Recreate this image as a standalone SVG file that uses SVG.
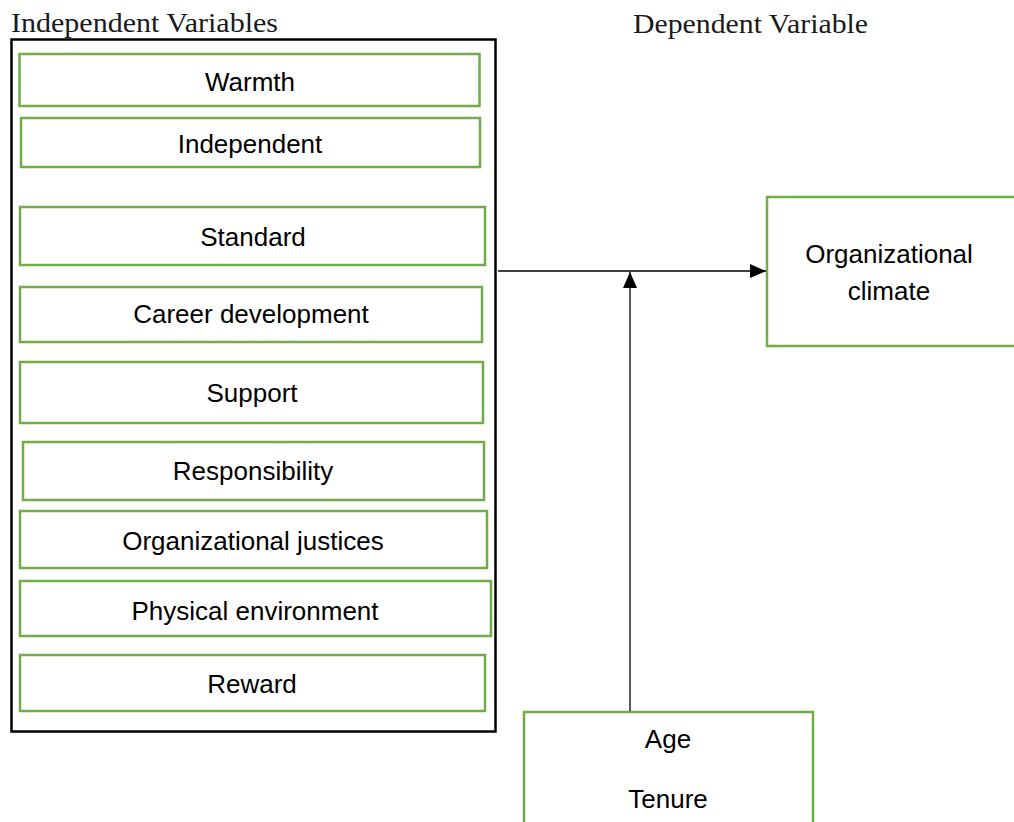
<svg xmlns="http://www.w3.org/2000/svg" width="1014" height="822" viewBox="0 0 1014 822">
<style>
.hdr{font-family:"Liberation Serif","Times New Roman",serif;font-size:28px;fill:#1a1a1a}
.box{fill:#fff;stroke:#70AD47;stroke-width:2.5}
.lbl{font-family:"Liberation Sans",Arial,sans-serif;font-size:26px;fill:#000;text-anchor:middle}
.conn{stroke:#000;stroke-width:1.3;fill:none}
</style>
<defs>
<marker id="arr" viewBox="0 0 16 14" refX="16" refY="7" markerWidth="16" markerHeight="14" markerUnits="userSpaceOnUse" orient="auto">
<path d="M0,0 L16,7 L0,14 Z" fill="#000"/>
</marker>
</defs>
<rect width="1014" height="822" fill="#fff"/>
<text class="hdr" x="11" y="32" textLength="267" lengthAdjust="spacingAndGlyphs">Independent Variables</text>
<text class="hdr" x="633" y="33" textLength="235" lengthAdjust="spacingAndGlyphs">Dependent Variable</text>
<g id="independent-group">
<rect x="11.5" y="39.5" width="484" height="692" fill="#fff" stroke="#000" stroke-width="2.5"/>
</g>
<g id="warmth"><rect class="box" x="19.5" y="54" width="460" height="52"/><text class="lbl" x="250" y="90.5">Warmth</text></g>
<g id="independent"><rect class="box" x="21" y="118" width="459" height="49"/><text class="lbl" x="250" y="153">Independent</text></g>
<g id="standard"><rect class="box" x="20" y="207" width="465" height="58"/><text class="lbl" x="253" y="246">Standard</text></g>
<g id="career"><rect class="box" x="20" y="287" width="462" height="55"/><text class="lbl" x="251" y="323">Career development</text></g>
<g id="support"><rect class="box" x="20" y="362" width="463" height="61"/><text class="lbl" x="252" y="402">Support</text></g>
<g id="responsibility"><rect class="box" x="23" y="442" width="461" height="58"/><text class="lbl" x="253" y="480">Responsibility</text></g>
<g id="justices"><rect class="box" x="20" y="511" width="467" height="57"/><text class="lbl" x="253" y="550">Organizational justices</text></g>
<g id="physical"><rect class="box" x="20" y="581" width="471" height="55"/><text class="lbl" x="255" y="620">Physical environment</text></g>
<g id="reward"><rect class="box" x="20" y="655" width="465" height="56"/><text class="lbl" x="252" y="693">Reward</text></g>
<g id="climate"><rect class="box" x="767" y="197" width="260" height="149"/><text class="lbl" x="889" y="263">Organizational</text><text class="lbl" x="889" y="300">climate</text></g>
<g id="moderators"><rect class="box" x="524" y="712" width="289" height="130"/><text class="lbl" x="668" y="748">Age</text><text class="lbl" x="668" y="808">Tenure</text></g>
<g id="connectors">
<line class="conn" x1="498" y1="271" x2="766" y2="271" marker-end="url(#arr)"/>
<line class="conn" x1="630" y1="711" x2="630" y2="272" marker-end="url(#arr)"/>
</g>
</svg>
